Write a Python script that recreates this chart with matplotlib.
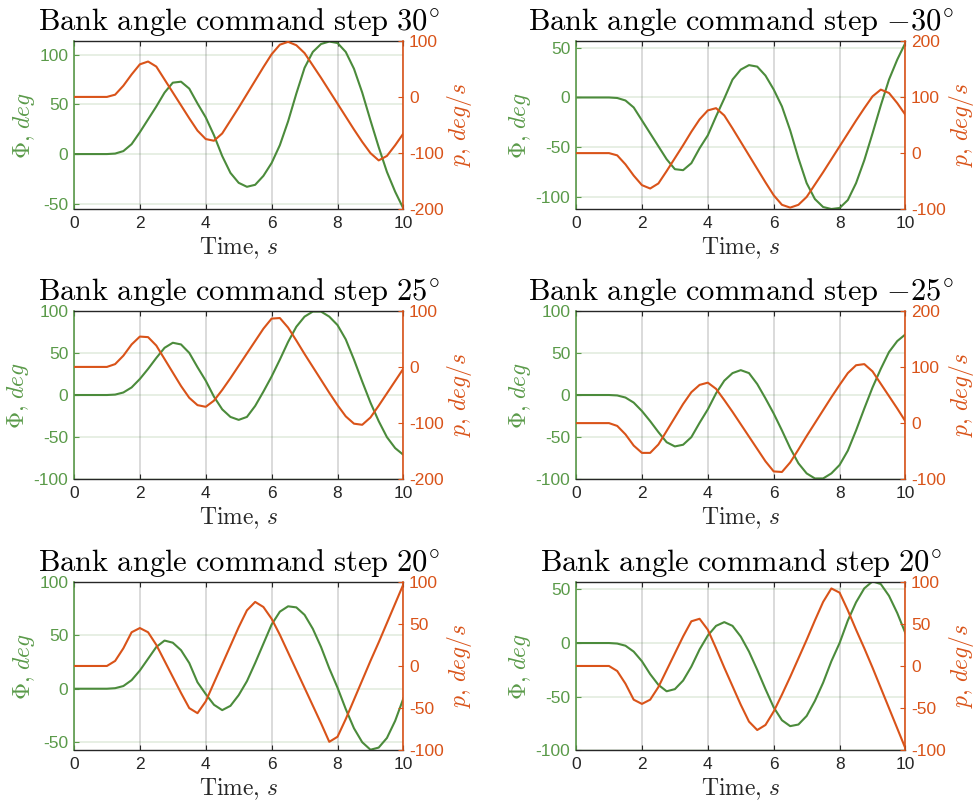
import numpy as np
import matplotlib
matplotlib.use("Agg")
import matplotlib.pyplot as plt
from matplotlib.ticker import MultipleLocator

plt.rcParams['font.family'] = ['Liberation Sans', 'DejaVu Sans']
plt.rcParams['mathtext.fontset'] = 'cm'
plt.rcParams['axes.unicode_minus'] = False

# time axis, 0.25 s steps
t = np.linspace(0, 10, 41)

# bank angle Phi (deg) and roll rate p (deg/s)
phi_30 = [0, 0, 0, 0, 0, 0.5, 3, 10, 22, 35, 48, 62, 72, 73, 66, 51, 37, 19, -2, -19, -29,
          -33, -31, -22, -9, 9, 33, 61, 87, 103, 111, 113.5, 112, 103, 86, 62, 34, 7, -18, -38, -55]
p_30 = [0, 0, 0, 0, 0, 4, 20, 40, 58, 63, 54, 31, 8, -15, -38, -60, -75, -78, -65, -42, -19,
        5, 29, 53, 76, 93, 98, 92, 78, 56, 34, 11, -12, -35, -58, -80, -100, -113, -105, -86, -65]

phi_m30 = [0, 0, 0, 0, 0, -0.5, -3, -10, -23, -36, -49, -62, -72, -73, -66, -51, -38, -19, -1, 18, 28,
           32.5, 31, 22, 8, -9, -33, -61, -86, -102, -110, -112, -111, -103, -86, -63, -36, -8, 18, 38, 55]
p_m30 = [0, 0, 0, 0, 0, -4, -20, -40, -57, -63, -54, -32, -9, 14, 38, 60, 76, 80, 67, 44, 20,
         -4, -28, -52, -75, -92, -97, -92, -78, -56, -34, -11, 12, 35, 58, 80, 101, 113, 107, 89, 68]

phi_25 = [0, 0, 0, 0, 0, 0.5, 3, 9, 19, 31, 44, 56, 62, 60, 50, 33, 17, -2, -17, -26, -29.5,
          -26, -13, 4, 22, 42, 63, 81, 93, 99, 99, 93, 83, 66, 42, 16, -9, -31, -50, -63, -71]
p_25 = [0, 0, 0, 0, 0, 5, 20, 40, 54, 53, 38, 14, -10, -34, -55, -68, -71, -60, -41, -20, 2,
        24, 46, 68, 86, 87, 70, 47, 23, 0, -23, -46, -68, -88, -101, -103, -90, -69, -47, -25, -3]

phi_m25 = [0, 0, 0, 0, 0, -0.5, -3, -9, -19, -31, -44, -56, -61, -59, -50, -33, -17, 2, 17, 26, 29.5,
           26, 13, -4, -22, -42, -63, -81, -93, -99, -99, -93, -83, -66, -42, -16, 9, 31, 51, 64, 72]
p_m25 = [0, 0, 0, 0, 0, -5, -20, -40, -53, -53, -38, -14, 10, 34, 55, 68, 72, 61, 41, 20, -2,
         -24, -46, -68, -86, -87, -70, -47, -23, 0, 23, 46, 68, 89, 103, 105, 92, 70, 48, 26, 3]

phi_20 = [0, 0, 0, 0, 0, 0.5, 2.5, 8, 17, 28, 39, 45, 43, 36, 24, 6, -5, -15, -20, -16, -6,
          7, 24, 42, 60, 72, 77, 76, 69, 56, 39, 19, 1, -19, -37, -50, -57, -55, -46, -30, -9]
p_20 = [0, 0, 0, 0, 0, 6, 21, 40, 45, 40, 25, 6, -13, -32, -50, -56, -42, -20, 2, 24, 46,
        66, 76, 70, 56, 37, 16, -5, -26, -47, -68, -90, -84, -63, -40, -17, 6, 28, 51, 74, 97]

phi_m20 = [0, 0, 0, 0, 0, -0.5, -2.5, -8, -17, -29, -39, -45, -43, -35, -22, -6, 7, 16, 19.5, 16, 6,
           -8, -25, -43, -60, -72, -77.5, -76, -68, -54, -37, -17, 0, 21, 38, 51, 57.5, 55, 44, 28, 9]
p_m20 = [0, 0, 0, 0, 0, -6, -21, -40, -45, -40, -25, -5, 15, 35, 53, 56, 43, 21, -2, -24, -46,
         -66, -76, -70, -54, -34, -13, 9, 31, 54, 76, 92, 87, 66, 43, 21, -2, -26, -50, -74, -98]

titles = ['30', '{-}30', '25', '{-}25', '20', '20']
phi_data = [phi_30, phi_m30, phi_25, phi_m25, phi_20, phi_m20]
p_data = [p_30, p_m30, p_25, p_m25, p_20, p_m20]
phi_lims = [(-55.7, 114.3), (-112.3, 57), (-100, 100), (-100, 100), (-57.5, 100), (-100, 57.2)]
p_lims = [(-200, 100), (-100, 200), (-200, 100), (-100, 200), (-100, 100), (-100, 100)]
p_steps = [100, 100, 100, 100, 50, 50]

GREEN = '#4b8b3b'
GREEN_TXT = '#5a9a49'
ORANGE = '#d95319'
DARK = '#262626'

fig = plt.figure(figsize=(9.77, 8.05), dpi=100)
lefts = [0.0757, 0.5896]
bottoms = [0.7400, 0.4046, 0.0680]
w, h = 0.3372, 0.2094

for i in range(6):
    ax = fig.add_axes([lefts[i % 2], bottoms[i // 2], w, h])
    ax2 = ax.twinx()

    ax.plot(t, phi_data[i], color=GREEN, lw=1.5, solid_joinstyle='round')
    ax2.plot(t, p_data[i], color=ORANGE, lw=1.5, solid_joinstyle='round')

    ax.set_xlim(0, 10)
    ax.set_ylim(*phi_lims[i])
    ax2.set_ylim(*p_lims[i])
    ax.xaxis.set_major_locator(MultipleLocator(2))
    ax.yaxis.set_major_locator(MultipleLocator(50))
    ax2.yaxis.set_major_locator(MultipleLocator(p_steps[i]))

    ax.grid(axis='x', color=DARK, alpha=0.18, lw=1.3)
    ax.grid(axis='y', color=GREEN, alpha=0.15, lw=1.3)

    for s in ['top', 'bottom']:
        ax.spines[s].set_color(DARK)
        ax.spines[s].set_linewidth(1.0)
    ax.spines['left'].set_color(GREEN_TXT)
    ax.spines['left'].set_linewidth(1.2)
    ax.spines['right'].set_visible(False)
    ax2.spines['left'].set_visible(False)
    ax2.spines['top'].set_visible(False)
    ax2.spines['bottom'].set_visible(False)
    ax2.spines['right'].set_color(ORANGE)
    ax2.spines['right'].set_linewidth(1.2)

    ax.tick_params(axis='x', direction='in', top=True, length=3.5, labelsize=12.5,
                   colors=DARK, pad=5)
    ax.tick_params(axis='y', direction='in', length=3.5, labelsize=12.5,
                   colors=GREEN_TXT, pad=4)
    ax2.tick_params(axis='y', direction='in', length=3.5, labelsize=12.5,
                    colors=ORANGE, pad=4)

    ax.set_title(r'$\mathrm{Bank\ angle\ command\ step\ ' + titles[i] + r'^{\circ}}$',
                 fontsize=22, pad=8)
    ax.set_xlabel(r'$\mathrm{Time{,}}\ s$', fontsize=17, color=DARK, labelpad=3)
    ax.set_ylabel(r'$\Phi{,}\ deg$', fontsize=17, color=GREEN_TXT, labelpad=2)
    ax2.set_ylabel(r'$p{,}\ deg/s$', fontsize=17, color=ORANGE, labelpad=1)

fig.savefig('out.png', dpi=100)
